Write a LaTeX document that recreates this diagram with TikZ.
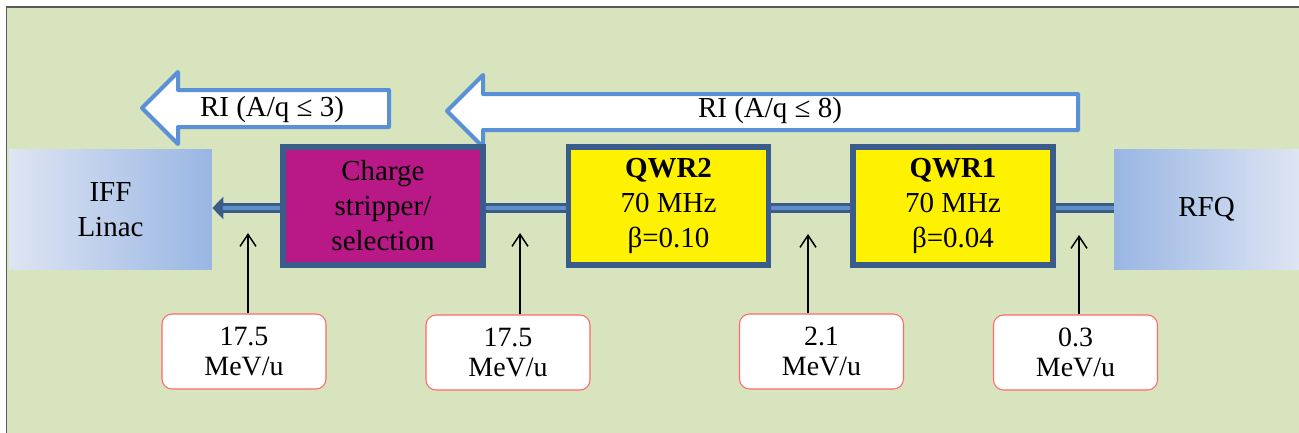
\documentclass[tikz,border=0pt]{standalone}
\usepackage{fontspec}
\setmainfont{Liberation Serif}
\newfontfamily\diagserif{Liberation Serif}
\usepackage{tikz}
\usepackage{xcolor}
\usetikzlibrary{arrows.meta,backgrounds}
\definecolor{bggreen}{RGB}{216,228,190}
\definecolor{framegray}{RGB}{90,90,90}
\definecolor{boxblue}{RGB}{58,92,138}
\definecolor{beamlight}{RGB}{96,143,200}
\definecolor{stripmag}{RGB}{185,24,135}
\definecolor{gradlight}{RGB}{222,229,243}
\definecolor{graddark}{RGB}{153,182,227}
\definecolor{arrowblue}{RGB}{90,144,214}
\definecolor{labred}{RGB}{255,105,105}
\newcommand{\boxfont}{\diagserif\fontsize{16.5}{19.9}\selectfont}
\newcommand{\labfont}{\diagserif\fontsize{15.9}{17.2}\selectfont}

\begin{document}
\begin{tikzpicture}[x=0.02cm,y=-0.02cm,>=Stealth,
  cavity/.style={draw=boxblue,line width=0.11cm,minimum width=4cm,minimum height=2.37cm,align=center,font=\boxfont},
  endbox/.style={minimum height=2.4cm,align=center,font=\boxfont},
  energy/.style={draw=labred,fill=white,rounded corners=0.2cm,line width=0.6pt,minimum width=3.28cm,minimum height=1.5cm,align=center,font=\labfont},
  fatarrow/.style={draw=arrowblue,fill=white,line width=0.08cm,line join=round},
  marker/.style={-{Straight Barb[width=0.32cm,length=0.24cm]},line width=0.03cm}]
  \useasboundingbox (0,0) rectangle (1299,433);
  \begin{scope}[on background layer]
    \fill[bggreen] (6.5,6.5) rectangle (1299,433);
    \draw[framegray,line width=0.04cm] (6.5,433) -- (6.5,6.5) -- (1299,6.5);
  \end{scope}

  \draw[fatarrow] (142,108) -- (178,72) -- (178,90) -- (389,90) -- (389,127) -- (178,127) -- (178,144) -- cycle;
  \node[font=\boxfont] (ri3) at (272,110) {RI (A/q ≤ 3)};
  \draw[fatarrow] (447,111) -- (483,75) -- (483,94) -- (1078,94) -- (1078,130) -- (483,130) -- (483,147) -- cycle;
  \node[font=\boxfont] (ri8) at (770,111) {RI (A/q ≤ 8)};

  \node[endbox,left color=gradlight,right color=graddark,minimum width=4.06cm] (iff) at (110.5,209.5) {IFF\\Linac};
  \node[endbox,left color=graddark,right color=gradlight,minimum width=3.7cm] (rfq) at (1206.5,209.5) {RFQ};
  \node[cavity,fill=stripmag] (strip) at (383,206) {Charge\\stripper/\\selection};
  \node[cavity,fill=yellow] (qwr2) at (668.5,206) {\textbf{QWR2}\\70 MHz\\β=0.10};
  \node[cavity,fill=yellow] (qwr1) at (953,206) {\textbf{QWR1}\\70 MHz\\β=0.04};

  \begin{scope}[on background layer]
    \draw[boxblue,line width=0.2cm,-{Triangle[width=0.44cm,length=0.22cm]}] (rfq.west |- 0,208) -- (iff.east |- 0,208);
    \draw[beamlight,line width=0.07cm,shorten >=0.22cm] (rfq.west |- 0,208) -- (iff.east |- 0,208);
  \end{scope}

  \node[energy] (e1) at (244,351.5) {17.5\\MeV/u};
  \node[energy] (e2) at (508,352.5) {17.5\\MeV/u};
  \node[energy] (e3) at (821.5,351.5) {2.1\\MeV/u};
  \node[energy] (e4) at (1075.5,352.5) {0.3\\MeV/u};
  \coordinate (t1) at (248,233);
  \coordinate (t2) at (520,233);
  \coordinate (t3) at (808,234);
  \coordinate (t4) at (1079,235);
  \draw[marker] (e1.north -| t1) -- (t1);
  \draw[marker] (e2.north -| t2) -- (t2);
  \draw[marker] (e3.north -| t3) -- (t3);
  \draw[marker] (e4.north -| t4) -- (t4);
\end{tikzpicture}
\end{document}
